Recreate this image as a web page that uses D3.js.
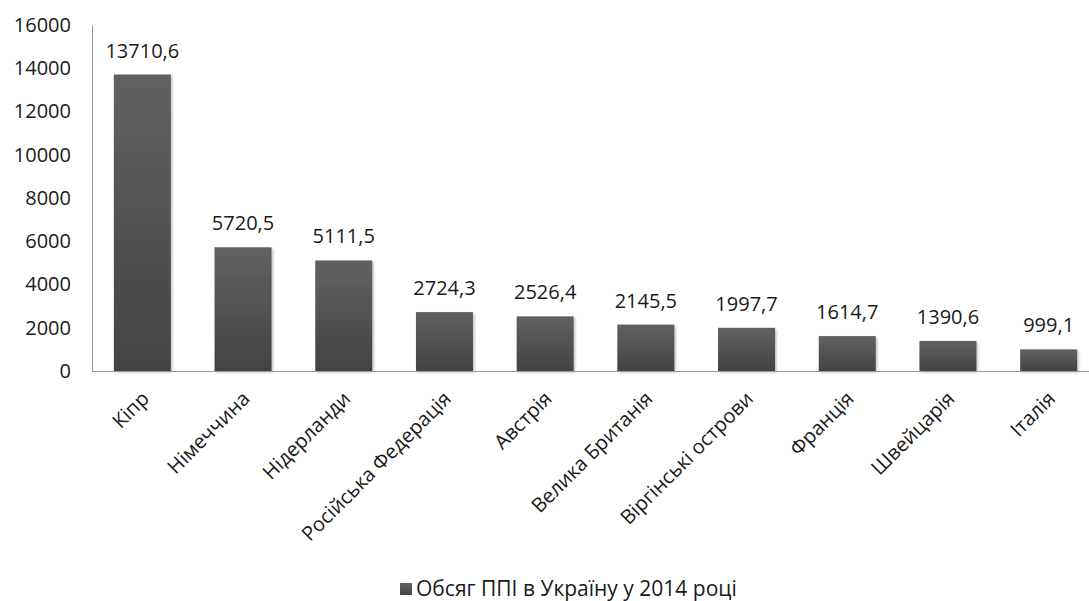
<!DOCTYPE html>
<html>

<head>
    <meta charset="UTF-8">
    <style>
        body { margin: 0; background: #fff; }
        text { font-family: "Open Sans", "Noto Sans", sans-serif; fill: #1a1a1a; }
    </style>
</head>

<body>
    <div id="chart"></div>

    <script src="https://d3js.org/d3.v7.min.js"></script>
    <script>
        // chart data
        const countries = ["Кіпр", "Німеччина", "Нідерланди", "Російська Федерація", "Австрія",
            "Велика Британія", "Віргінські острови", "Франція", "Швейцарія", "Італія"];
        const values = [13710.6, 5720.5, 5111.5, 2724.3, 2526.4, 2145.5, 1997.7, 1614.7, 1390.6, 999.1];
        const yTicks = [0, 2000, 4000, 6000, 8000, 10000, 12000, 14000, 16000];
        const seriesName = "Обсяг ППІ в Україну у 2014 році";

        const W = 1089, H = 601;
        const plot = { left: 92, right: 1099, top: 25, bottom: 371 };

        const svg = d3.select("#chart").append("svg")
            .attr("width", W)
            .attr("height", H);

        const defs = svg.append("defs");
        const grad = defs.append("linearGradient")
            .attr("id", "barGrad")
            .attr("x1", 0).attr("y1", 0).attr("x2", 0).attr("y2", 1);
        grad.append("stop").attr("offset", "0%").attr("stop-color", "#616161");
        grad.append("stop").attr("offset", "100%").attr("stop-color", "#434343");

        const shadow = defs.append("filter").attr("id", "shadow")
            .attr("x", "-10%").attr("y", "-10%").attr("width", "130%").attr("height", "130%");
        shadow.append("feDropShadow")
            .attr("dx", 1.5).attr("dy", 1.5).attr("stdDeviation", 1.2)
            .attr("flood-color", "#000").attr("flood-opacity", 0.25);

        const x = d3.scaleBand()
            .domain(countries)
            .range([plot.left, plot.right])
            .paddingInner(0.434)
            .paddingOuter(0.217);

        const y = d3.scaleLinear()
            .domain([0, 16000])
            .range([plot.bottom, plot.top]);

        // y axis
        const yAxis = svg.append("g")
            .attr("transform", "translate(" + plot.left + ",0)")
            .call(d3.axisLeft(y).tickValues(yTicks).tickSize(0).tickPadding(21).tickFormat(d3.format("d")));
        yAxis.select(".domain").attr("stroke", "#9a9a9a").attr("stroke-width", 1);
        yAxis.selectAll("text")
            .style("font-size", "20px")
            .style("font-family", "\"Open Sans\", sans-serif")
            .attr("fill", "#1a1a1a");

        // bars
        svg.append("g")
            .selectAll("rect")
            .data(values)
            .enter().append("rect")
            .attr("x", function (d, i) { return x(countries[i]); })
            .attr("y", function (d) { return y(d); })
            .attr("width", x.bandwidth())
            .attr("height", function (d) { return y(0) - y(d); })
            .attr("fill", "url(#barGrad)")
            .attr("filter", "url(#shadow)");

        // x axis line
        svg.append("line")
            .attr("x1", plot.left).attr("x2", W)
            .attr("y1", y(0) + 0.5).attr("y2", y(0) + 0.5)
            .attr("stroke", "#9a9a9a");

        // value labels
        svg.append("g")
            .selectAll("text")
            .data(values)
            .enter().append("text")
            .attr("x", function (d, i) { return x(countries[i]) + x.bandwidth() / 2; })
            .attr("y", function (d) { return y(d) - 17; })
            .attr("text-anchor", "middle")
            .style("font-size", "20px")
            .text(function (d) { return d3.format(".1f")(d).replace(".", ","); });

        // category labels
        svg.append("g")
            .selectAll("text")
            .data(countries)
            .enter().append("text")
            .attr("text-anchor", "end")
            .attr("transform", function (d) {
                return "translate(" + (x(d) + x.bandwidth() / 2 + 3) + "," + (y(0) + 24) + ") rotate(-45)";
            })
            .attr("dy", "0.35em")
            .style("font-size", "20px")
            .text(function (d) { return d; });

        // legend
        const legend = svg.append("g").attr("transform", "translate(400,596)");
        legend.append("rect")
            .attr("x", 0).attr("y", -13)
            .attr("width", 12).attr("height", 12)
            .attr("fill", "url(#barGrad)");
        legend.append("text")
            .attr("x", 16).attr("y", 0)
            .style("font-size", "21px")
            .text(seriesName);
    </script>
</body>

</html>
